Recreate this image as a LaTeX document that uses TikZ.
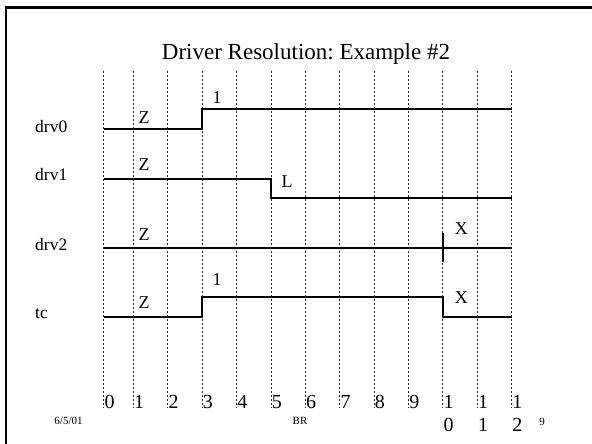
\documentclass[tikz,border=0pt]{standalone}
\usepackage{fontspec}
\setmainfont{Liberation Serif}
\frenchspacing
\begin{document}
\begin{tikzpicture}[x=1pt,y=-1pt,
  gridline/.style={dash pattern=on 2.5pt off 1.5pt, line width=0.7pt, black!85},
  wave/.style={line width=1.8pt, line join=miter},
  sig/.style={font=\fontsize{17.5}{17.5}\selectfont, inner sep=0pt, anchor=base west},
  val/.style={font=\fontsize{18}{18}\selectfont, inner sep=0pt, anchor=base},
  digit/.style={font=\fontsize{20}{20}\selectfont, inner sep=0pt, anchor=base west},
  small/.style={font=\fontsize{11}{11}\selectfont, inner sep=0pt, anchor=base},
  title/.style={font=\fontsize{23}{23}\selectfont, inner sep=0pt, anchor=base}]
\useasboundingbox (0,0) rectangle (592,444);
\fill[white] (0,0) rectangle (592,444);
% frame
\draw[line width=2.5pt] (6,444) -- (6,7.5) -- (592,7.5);
% title
\node[title] (ttl) at (306,60) {Driver Resolution: Example \#2};
% grid
\foreach \i in {0,...,12}{
  \pgfmathsetmacro\xx{\i==0 ? 103.7 : 133.3+(\i-1)*34.39}
  \coordinate (g\i) at (\xx,0);
  \draw[gridline] (\xx,70.7) -- (\xx,407);
}
\foreach \i in {0,...,9}{
  \node[digit] (n\i) at ([xshift=0.7pt]g\i |- 0,408) {\i};
}
\foreach \i/\j in {10/0,11/1,12/2}{
  \node[digit] (n\i) at ([xshift=0.7pt]g\i |- 0,408) {1};
  \node[digit] (m\i) at ([xshift=0.7pt]g\i |- 0,431.8) {\j};
}
% levels
\coordinate (d0lo) at (0,129.3);
\coordinate (d0hi) at (0,109.3);
\coordinate (d1hi) at (0,179);
\coordinate (d1lo) at (0,198.3);
\coordinate (d2) at (0,247.8);
\coordinate (tclo) at (0,316.7);
\coordinate (tchi) at (0,297.3);
% signal names
\node[sig] (ldrv0) at (35,132) {drv0};
\node[sig] (ldrv1) at (35,180.4) {drv1};
\node[sig] (ldrv2) at (35,250.4) {drv2};
\node[sig] (ltc) at (35,318.6) {tc};
% waveforms
\draw[wave] (g0 |- d0lo) -- (g3 |- d0lo) -- (g3 |- d0hi) -- (g12 |- d0hi);
\draw[wave] (g0 |- d1hi) -- (g5 |- d1hi) -- (g5 |- d1lo) -- (g12 |- d1lo);
\draw[wave] (g0 |- d2) -- (g12 |- d2);
\draw[line width=2.6pt] (g10 |- 0,233.3) -- (g10 |- 0,262.3);
\draw[wave] (g0 |- tclo) -- (g3 |- tclo) -- (g3 |- tchi) -- (g10 |- tchi) -- (g10 |- tclo) -- (g12 |- tclo);
% values
\node[val] (z0) at (144,123.3) {Z};
\node[val] (o0) at (217,103.3) {1};
\node[val] (z1) at (144,170.3) {Z};
\node[val] (l1) at (287,187) {L};
\node[val] (z2) at (144,240.3) {Z};
\node[val] (x2) at (461.3,234.3) {X};
\node[val] (z3) at (144,308.3) {Z};
\node[val] (o3) at (217,285.3) {1};
\node[val] (x3) at (461.3,303.3) {X};
% footer
\node[small] (date) at (68.5,424.4) {6/5/01};
\node[small] (br) at (300,424.4) {BR};
\node[small] (pg) at (542,425) {9};
\end{tikzpicture}
\end{document}
